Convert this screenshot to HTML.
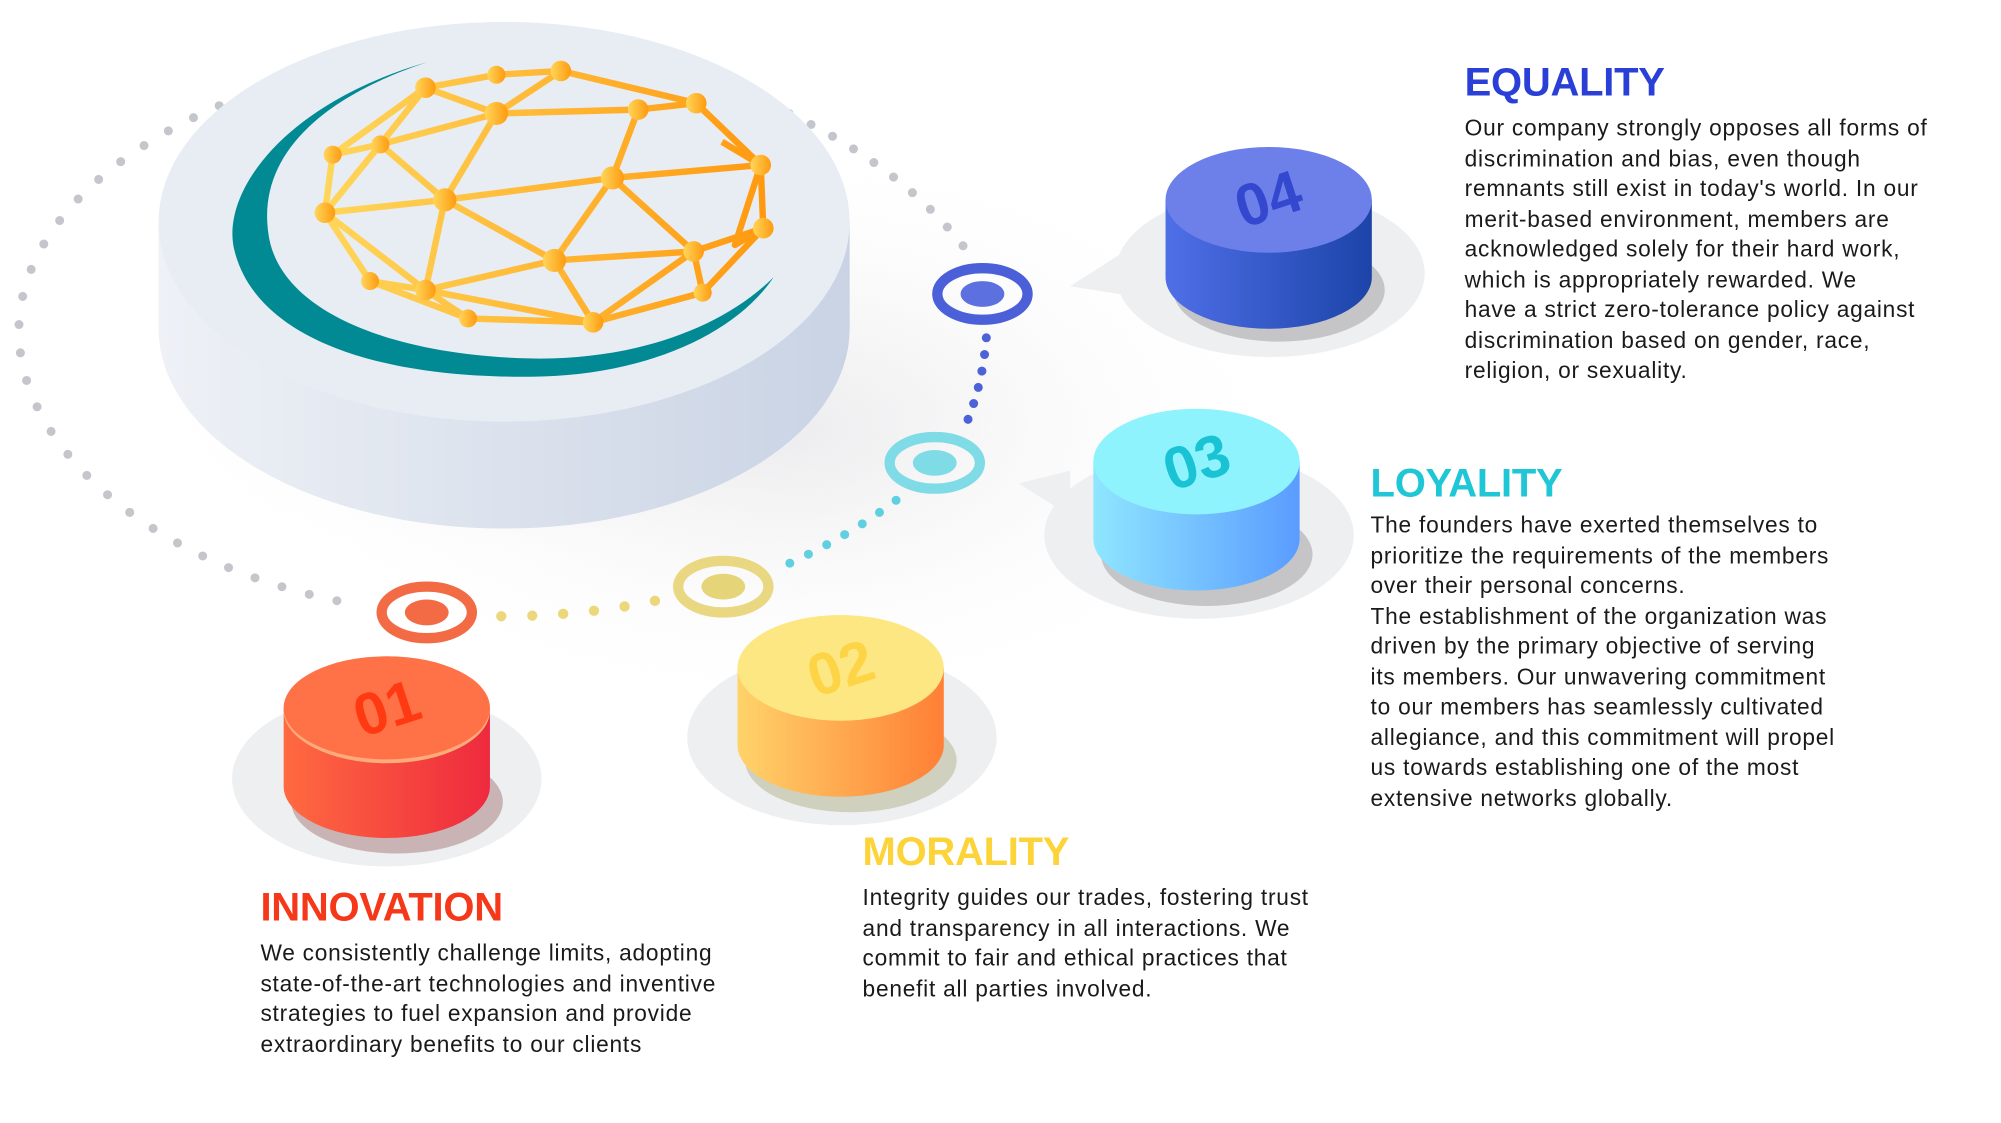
<!DOCTYPE html>
<html><head><meta charset="utf-8">
<style>
html,body{margin:0;padding:0;background:#fff;width:2001px;height:1123px;overflow:hidden}
#w{position:absolute;left:0;top:0;width:1552px;height:871px;transform:scale(1.28931);transform-origin:0 0}
svg{position:absolute;left:0;top:0}
.t{position:absolute;font-family:"Liberation Sans",sans-serif;font-weight:bold;font-size:31px;letter-spacing:-0.2px;transform:scaleX(1.0);transform-origin:0 0}
.b{position:absolute;font-family:"Liberation Sans",sans-serif;font-size:17.6px;letter-spacing:0.6px;line-height:23.5px;color:#1a1a1a;white-space:nowrap}
</style></head><body><div id="w">
<svg width="1552" height="871" viewBox="0 0 1552 871">
<defs>
<radialGradient id="sh" cx="0.5" cy="0.5" r="0.5"><stop offset="0" stop-color="#d8d8dc" stop-opacity="0.9"/><stop offset="1" stop-color="#fff" stop-opacity="0"/></radialGradient>
<linearGradient id="side" x1="0" x2="1"><stop offset="0" stop-color="#eef1f6"/><stop offset="1" stop-color="#c9d3e4"/></linearGradient>
<linearGradient id="g1" x1="0" x2="1"><stop offset="0" stop-color="#ff6a40"/><stop offset="1" stop-color="#ee2a3e"/></linearGradient>
<linearGradient id="g2" x1="0" x2="1"><stop offset="0" stop-color="#ffd36a"/><stop offset="1" stop-color="#ff7f35"/></linearGradient>
<linearGradient id="g3" x1="0" x2="1"><stop offset="0" stop-color="#8fe6ff"/><stop offset="1" stop-color="#5a9cff"/></linearGradient>
<linearGradient id="g4" x1="0" x2="1"><stop offset="0" stop-color="#4f6fe8"/><stop offset="1" stop-color="#1c44a8"/></linearGradient>
<linearGradient id="gl" x1="0" x2="1"><stop offset="0" stop-color="#ffd65a"/><stop offset="1" stop-color="#ff9a10"/></linearGradient>
</defs>
<ellipse cx="600" cy="330" rx="420" ry="230" fill="url(#sh)" opacity="0.6"/>
<path d="M170,82 C60,130 10,200 15,265 C20,350 120,440 272,468" fill="none" stroke="#c4c6cc" stroke-width="7" stroke-linecap="round" stroke-dasharray="0 22"/>
<path d="M612,88 Q700,130 748,192" fill="none" stroke="#c4c6cc" stroke-width="7" stroke-linecap="round" stroke-dasharray="0 19"/>
<ellipse cx="400" cy="300" rx="300" ry="150" fill="url(#sh)" opacity="0.7"/>
<path d="M123,172 L123,255 A268,155 0 0 0 659,255 L659,172 Z" fill="url(#side)"/>
<ellipse cx="391" cy="172" rx="268" ry="155" fill="#e8edf4"/>
<path d="M332,48 C220,80 170,150 182,195 C200,265 300,295 420,292 C500,290 570,260 600,215 C560,255 490,280 410,278 C300,275 215,240 208,180 C200,120 250,75 332,48 Z" fill="#018a94"/>
<g stroke="url(#gl)" stroke-width="5" fill="none" stroke-linejoin="round">
<path d="M330,68 L385,58 L435,55 L540,80 L590,128 L592,177 L545,227 L460,250 L363,247 L287,218 L252,165 L258,120 L330,68"/>
<path d="M330,68 L385,88 L435,55 M385,88 L495,85 L540,80 M495,85 L475,138 L590,128 M385,88 L345,155 L475,138 L430,202 L345,155 L295,112 L385,88 M258,120 L295,112 L252,165 L345,155 L330,225 L287,218 M252,165 L330,225 L430,202 L460,250 L538,195 L592,177 M475,138 L538,195 L430,202 M538,195 L545,227 M330,225 L363,247 M330,225 L460,250 M295,112 L330,68 M540,80 L590,128 L560,110 M590,128 L570,190 L592,177"/>
</g>
<g fill="url(#gl)">
<circle cx="330" cy="68" r="8"/><circle cx="385" cy="58" r="7"/><circle cx="435" cy="55" r="8"/><circle cx="540" cy="80" r="8"/><circle cx="590" cy="128" r="8"/><circle cx="592" cy="177" r="8"/><circle cx="545" cy="227" r="7"/><circle cx="460" cy="250" r="8"/><circle cx="363" cy="247" r="7"/><circle cx="287" cy="218" r="7"/><circle cx="252" cy="165" r="8"/><circle cx="258" cy="120" r="7"/><circle cx="295" cy="112" r="7"/><circle cx="385" cy="88" r="9"/><circle cx="495" cy="85" r="8"/><circle cx="345" cy="155" r="9"/><circle cx="475" cy="138" r="9"/><circle cx="430" cy="202" r="9"/><circle cx="538" cy="195" r="8"/><circle cx="330" cy="225" r="8"/>
</g>
<path d="M765,262 Q762,300 748,332" fill="none" stroke="#4d62d6" stroke-width="7" stroke-linecap="round" stroke-dasharray="0 13"/>
<path d="M695,388 Q660,415 610,438" fill="none" stroke="#60d0e0" stroke-width="7" stroke-linecap="round" stroke-dasharray="0 16"/>
<path d="M508,466 Q450,478 388,478" fill="none" stroke="#ecd77a" stroke-width="8" stroke-linecap="round" stroke-dasharray="0 24"/>
<ellipse cx="762" cy="228" rx="35" ry="20" fill="none" stroke="#4b5fd8" stroke-width="8"/><ellipse cx="762" cy="228" rx="17" ry="10" fill="#5c70e0"/>
<ellipse cx="725" cy="359" rx="35" ry="20" fill="none" stroke="#7fdbe6" stroke-width="8"/><ellipse cx="725" cy="359" rx="17" ry="10" fill="#7fdbe6"/>
<ellipse cx="561" cy="455" rx="35" ry="20" fill="none" stroke="#ead781" stroke-width="8"/><ellipse cx="561" cy="455" rx="17" ry="10" fill="#e6d578"/>
<ellipse cx="331" cy="475" rx="35" ry="20" fill="none" stroke="#f26b45" stroke-width="8"/><ellipse cx="331" cy="475" rx="17" ry="10" fill="#f26b45"/>
<g fill="#eeeff1">
<ellipse cx="985" cy="212" rx="120" ry="65"/><path d="M880,190 L830,222 L880,230 Z"/>
<ellipse cx="930" cy="415" rx="120" ry="65"/><path d="M830,365 L790,375 L830,400 Z"/>
<ellipse cx="653" cy="572" rx="120" ry="68"/>
<ellipse cx="300" cy="604" rx="120" ry="68"/>
</g>
<g>
<ellipse cx="992" cy="225" rx="82" ry="40" fill="#777" opacity="0.35"/>
<path d="M904,155 L904,215 A80,40 0 0 0 1064,215 L1064,155 Z" fill="url(#g4)"/>
<ellipse cx="984" cy="155" rx="80" ry="41" fill="#6d80ea"/>
<text x="984" y="170" font-family="Liberation Sans" font-weight="bold" font-size="46" fill="#3347cf" text-anchor="middle" transform="rotate(-18 984 155)">04</text>
</g>
<g>
<ellipse cx="936" cy="430" rx="82" ry="40" fill="#777" opacity="0.35"/>
<path d="M848,358 L848,418 A80,40 0 0 0 1008,418 L1008,358 Z" fill="url(#g3)"/>
<ellipse cx="928" cy="358" rx="80" ry="41" fill="#8ef3fd"/>
<text x="928" y="374" font-family="Liberation Sans" font-weight="bold" font-size="46" fill="#19c3d4" text-anchor="middle" transform="rotate(-18 928 358)">03</text>
</g>
<g>
<ellipse cx="660" cy="590" rx="82" ry="40" fill="#884" opacity="0.3"/>
<path d="M572,518 L572,578 A80,40 0 0 0 732,578 L732,518 Z" fill="url(#g2)"/>
<ellipse cx="652" cy="518" rx="80" ry="41" fill="#fde783"/>
<text x="652" y="534" font-family="Liberation Sans" font-weight="bold" font-size="46" fill="#fdd445" text-anchor="middle" transform="rotate(-18 652 518)">02</text>
</g>
<g>
<ellipse cx="308" cy="622" rx="82" ry="40" fill="#844" opacity="0.35"/>
<path d="M220,549 L220,610 A80,40 0 0 0 380,610 L380,549 Z" fill="url(#g1)"/>
<ellipse cx="300" cy="551" rx="80" ry="41" fill="#ffab7a"/>
<ellipse cx="300" cy="549" rx="80" ry="40" fill="#ff7248"/>
<text x="300" y="565" font-family="Liberation Sans" font-weight="bold" font-size="46" fill="#ff3a12" text-anchor="middle" transform="rotate(-18 300 549)">01</text>
</g>
</svg>

<div class="t" style="left:1136px;top:46px;color:#2a3fd6">EQUALITY</div>
<div class="b" style="left:1136px;top:88px">Our company strongly opposes all forms of<br>discrimination and bias, even though<br>remnants still exist in today's world. In our<br>merit-based environment, members are<br>acknowledged solely for their hard work,<br>which is appropriately rewarded. We<br>have a strict zero-tolerance policy against<br>discrimination based on gender, race,<br>religion, or sexuality.</div>

<div class="t" style="left:1063px;top:357px;color:#1ec6d6">LOYALITY</div>
<div class="b" style="left:1063px;top:396px">The founders have exerted themselves to<br>prioritize the requirements of the members<br>over their personal concerns.<br>The establishment of the organization was<br>driven by the primary objective of serving<br>its members. Our unwavering commitment<br>to our members has seamlessly cultivated<br>allegiance, and this commitment will propel<br>us towards establishing one of the most<br>extensive networks globally.</div>

<div class="t" style="left:669px;top:643px;color:#fcd43a">MORALITY</div>
<div class="b" style="left:669px;top:685px">Integrity guides our trades, fostering trust<br>and transparency in all interactions. We<br>commit to fair and ethical practices that<br>benefit all parties involved.</div>

<div class="t" style="left:202px;top:686px;color:#f5381a">INNOVATION</div>
<div class="b" style="left:202px;top:728px">We consistently challenge limits, adopting<br>state-of-the-art technologies and inventive<br>strategies to fuel expansion and provide<br>extraordinary benefits to our clients</div>
</div></body></html>
